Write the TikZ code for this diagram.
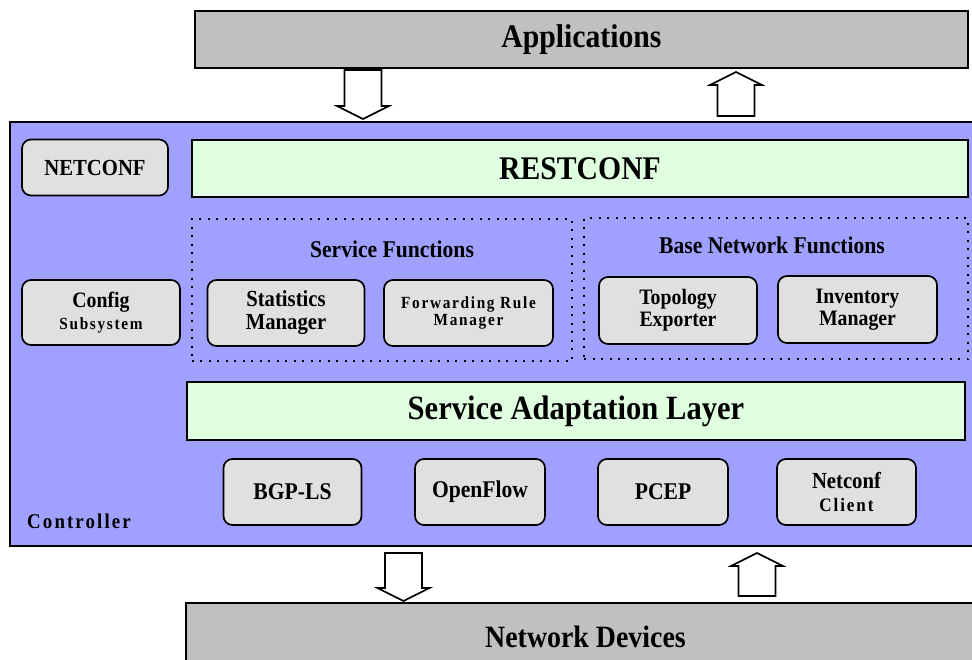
\documentclass[tikz,border=0pt]{standalone}
\usepackage{fontspec}
\setmainfont{Liberation Serif}[FakeStretch=0.9]
\newfontfamily\spaced{Liberation Serif}[FakeStretch=0.9,LetterSpace=10]
\usetikzlibrary{arrows,positioning,calc}
\definecolor{ctlblue}{RGB}{160,160,255}
\definecolor{bargray}{RGB}{192,192,192}
\definecolor{fngray}{RGB}{224,224,224}
\definecolor{layergreen}{RGB}{224,255,224}
\newcommand{\fsz}[1]{\fontsize{#1pt}{#1pt}\selectfont}
% hollow block arrow from #1 to #2
\newcommand{\fatarrow}[2]{%
  \coordinate (hb) at ($(#2)!13pt!(#1)$);
  \draw[fat] ($(#1)!18.5pt!90:(#2)$) -- ($(hb)!18.5pt!90:(#2)$)
    -- ($(hb)!26pt!90:(#2)$) -- (#2) -- ($(hb)!26pt!-90:(#2)$)
    -- ($(hb)!18.5pt!-90:(#2)$) -- ($(#1)!18.5pt!-90:(#2)$) -- cycle;}
\tikzset{
    block/.style={
           rectangle,
           draw=black,
           line width=1.8pt,
           inner sep=0pt,
           align=center,
           font=\bfseries,
           },
    fn/.style={
           block,
           rounded corners=9pt,
           line width=1.7pt,
           fill=fngray,
           },
}
\begin{document}
\begin{tikzpicture}[
  x=1pt,y=-1pt,
  bar/.style={fill=bargray},
  layer/.style={fill=layergreen},
  grp/.style={draw=black,line width=2pt,dash pattern=on 2pt off 6.5pt},
  fat/.style={draw=black,line width=1.6pt,fill=white,line join=miter}]
\useasboundingbox (0,0) rectangle (972,659);
\node[block,bar,minimum width=773pt,minimum height=57pt,font=\bfseries\fsz{33}](apps) at (581.5,39.5){Applications};
\node[block,fill=ctlblue,minimum width=975pt,minimum height=424pt](ctrl) at (497.5,334){};
\node[font=\bfseries\spaced\fsz{21}](ctrllabel) at (79,521){Controller};
\node[block,bar,minimum width=799pt,minimum height=68pt,font=\bfseries\fsz{31}](netdev) at (585.5,637){Network Devices};

% top row
\node[fn,minimum width=146pt,minimum height=56pt,font=\bfseries\fsz{23}](netconf) at (95,167.5){NETCONF};
\node[block,layer,minimum width=776pt,minimum height=57pt,font=\bfseries\fsz{33}](restconf) at (580,168.5){RESTCONF};

% function groups
\node[grp,minimum width=380pt,minimum height=142pt](svcfns) at (381.5,290){};
\node[grp,minimum width=384pt,minimum height=141pt](basefns) at (776,288.5){};
\node[font=\bfseries\fsz{24}](svctitle) at (392,249){Service Functions};
\node[font=\bfseries\fsz{24}](basetitle) at (772,245){Base Network Functions};
\node[fn,minimum width=158pt,minimum height=65pt,font=\bfseries\fsz{22}](cfgsub) at (101,312.5){Config\\{\spaced\fsz{17}Subsystem}};
\node[fn,minimum width=157pt,minimum height=66pt,font=\bfseries\fsz{23}](statsmgr) at (286,313){Statistics\\Manager};
\node[fn,minimum width=169pt,minimum height=66pt,font=\bfseries\spaced\fsz{17}](fwdmgr) at (468.5,313){Forwarding Rule\\Manager};
\node[fn,minimum width=158pt,minimum height=67pt,font=\bfseries\fsz{22}](topoexp) at (678,310.5){Topology\\Exporter};
\node[fn,minimum width=159pt,minimum height=67pt,font=\bfseries\fsz{22}](invmgr) at (857.5,309.5){Inventory\\Manager};

% adaptation layer and plugins
\node[block,layer,minimum width=778pt,minimum height=58pt,font=\bfseries\fsz{34}](sal) at (576,411){Service Adaptation Layer};
\node[fn,minimum width=138pt,minimum height=66pt,font=\bfseries\fsz{24}](bgpls) at (292.5,492){BGP-LS};
\node[fn,minimum width=130pt,minimum height=66pt,font=\bfseries\fsz{24},right of=bgpls,node distance=187.5pt](openflow){OpenFlow};
\node[fn,minimum width=130pt,minimum height=66pt,font=\bfseries\fsz{24},right of=openflow,node distance=183pt](pcep){PCEP};
\node[fn,minimum width=139pt,minimum height=66pt,font=\bfseries\fsz{23},right of=pcep,node distance=183.5pt](ncclient){Netconf\\{\spaced\fsz{19}Client}};

% block arrows
\coordinate (appdn) at (363,70);
\coordinate (ctlin) at (363,119);
\coordinate (ctlout) at (736,116);
\coordinate (appup) at (736,72);
\coordinate (ctldn) at (403.5,553);
\coordinate (devin) at (403.5,601);
\coordinate (devout) at (757,596);
\coordinate (ctlup) at (757,553);
\fatarrow{appdn}{ctlin}
\fatarrow{ctlout}{appup}
\fatarrow{ctldn}{devin}
\fatarrow{devout}{ctlup}
\end{tikzpicture}
\end{document}
